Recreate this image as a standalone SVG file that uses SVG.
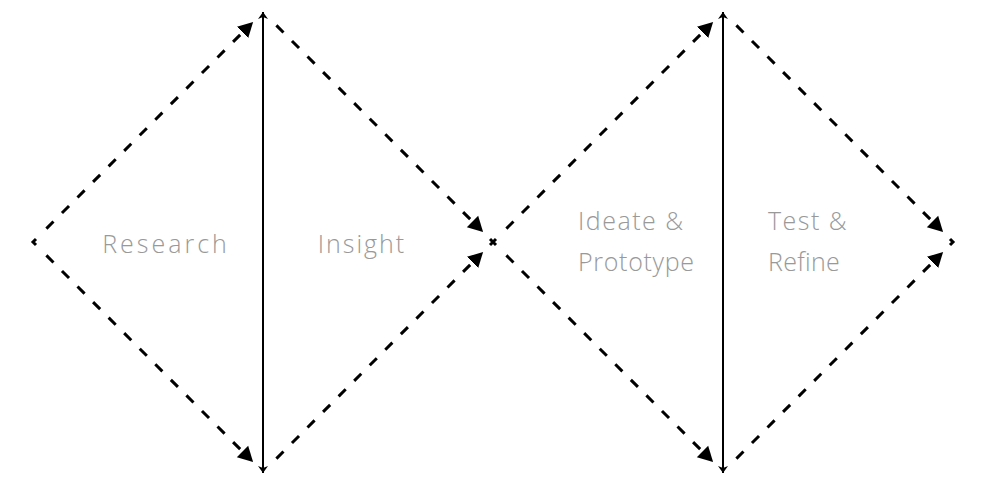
<svg xmlns="http://www.w3.org/2000/svg" width="990" height="495" viewBox="0 0 990 495">
  <style>
    .dash { stroke: #000; stroke-width: 3; stroke-dasharray: 10 12; fill: none; marker-end: url(#arrow); }
    .tick { stroke: #000; stroke-width: 3; fill: none; stroke-linejoin: miter; }
    .axis { stroke: #000; stroke-width: 2; fill: none; marker-start: url(#small); marker-end: url(#small); }
    .label { font-family: "Open Sans", "Lato", "Liberation Sans", sans-serif; font-weight: 300; font-size: 25px; fill: #999999; letter-spacing: 1.5px; }
  </style>
  <defs>
    <marker id="arrow" markerUnits="userSpaceOnUse" markerWidth="20" markerHeight="20" viewBox="0 -10 20 20" refX="0" refY="0" orient="auto">
      <path d="M0,-8 L15,0 L0,8 Z" fill="#000"/>
    </marker>
    <marker id="small" markerUnits="userSpaceOnUse" markerWidth="12" markerHeight="12" viewBox="-8 -6 10 12" refX="0" refY="0" orient="auto-start-reverse">
      <path d="M-7,-5 L0,0 L-7,5 L-5,0 Z" fill="#000"/>
    </marker>
  </defs>

  <g id="connectors">
    <line class="axis" x1="263" y1="12" x2="263" y2="473"/>
    <line class="axis" x1="723" y1="12" x2="723" y2="473"/>
    <line class="dash" x1="46.4" y1="228.6" x2="242.5" y2="32.5"/>
    <line class="dash" x1="46.4" y1="255.4" x2="242.5" y2="451.5"/>
    <line class="dash" x1="276.4" y1="25.4" x2="472.5" y2="221.5"/>
    <line class="dash" x1="276.4" y1="458.6" x2="472.5" y2="262.5"/>
    <line class="dash" x1="506.4" y1="228.6" x2="702.5" y2="32.5"/>
    <line class="dash" x1="506.4" y1="255.4" x2="702.5" y2="451.5"/>
    <line class="dash" x1="736.4" y1="25.4" x2="932.5" y2="221.5"/>
    <line class="dash" x1="736.4" y1="458.6" x2="932.5" y2="262.5"/>
    <path class="tick" d="M36,239 L33,242 L36,245"/>
    <path class="tick" d="M490,239 L496,245 M496,239 L490,245"/>
    <path class="tick" d="M950,239 L953,242 L950,245"/>
  </g>

  <g id="research"><text class="label" x="166" y="253" text-anchor="middle" style="letter-spacing:3px">Research</text></g>
  <g id="insight"><text class="label" x="362" y="253" text-anchor="middle" style="letter-spacing:2px">Insight</text></g>
  <g id="ideate">
    <text class="label" x="578" y="230">Ideate &amp;</text>
    <text class="label" x="578" y="271" style="letter-spacing:0.7px">Prototype</text>
  </g>
  <g id="test">
    <text class="label" x="768" y="230">Test &amp;</text>
    <text class="label" x="768" y="271" style="letter-spacing:0.3px">Refine</text>
  </g>
</svg>
